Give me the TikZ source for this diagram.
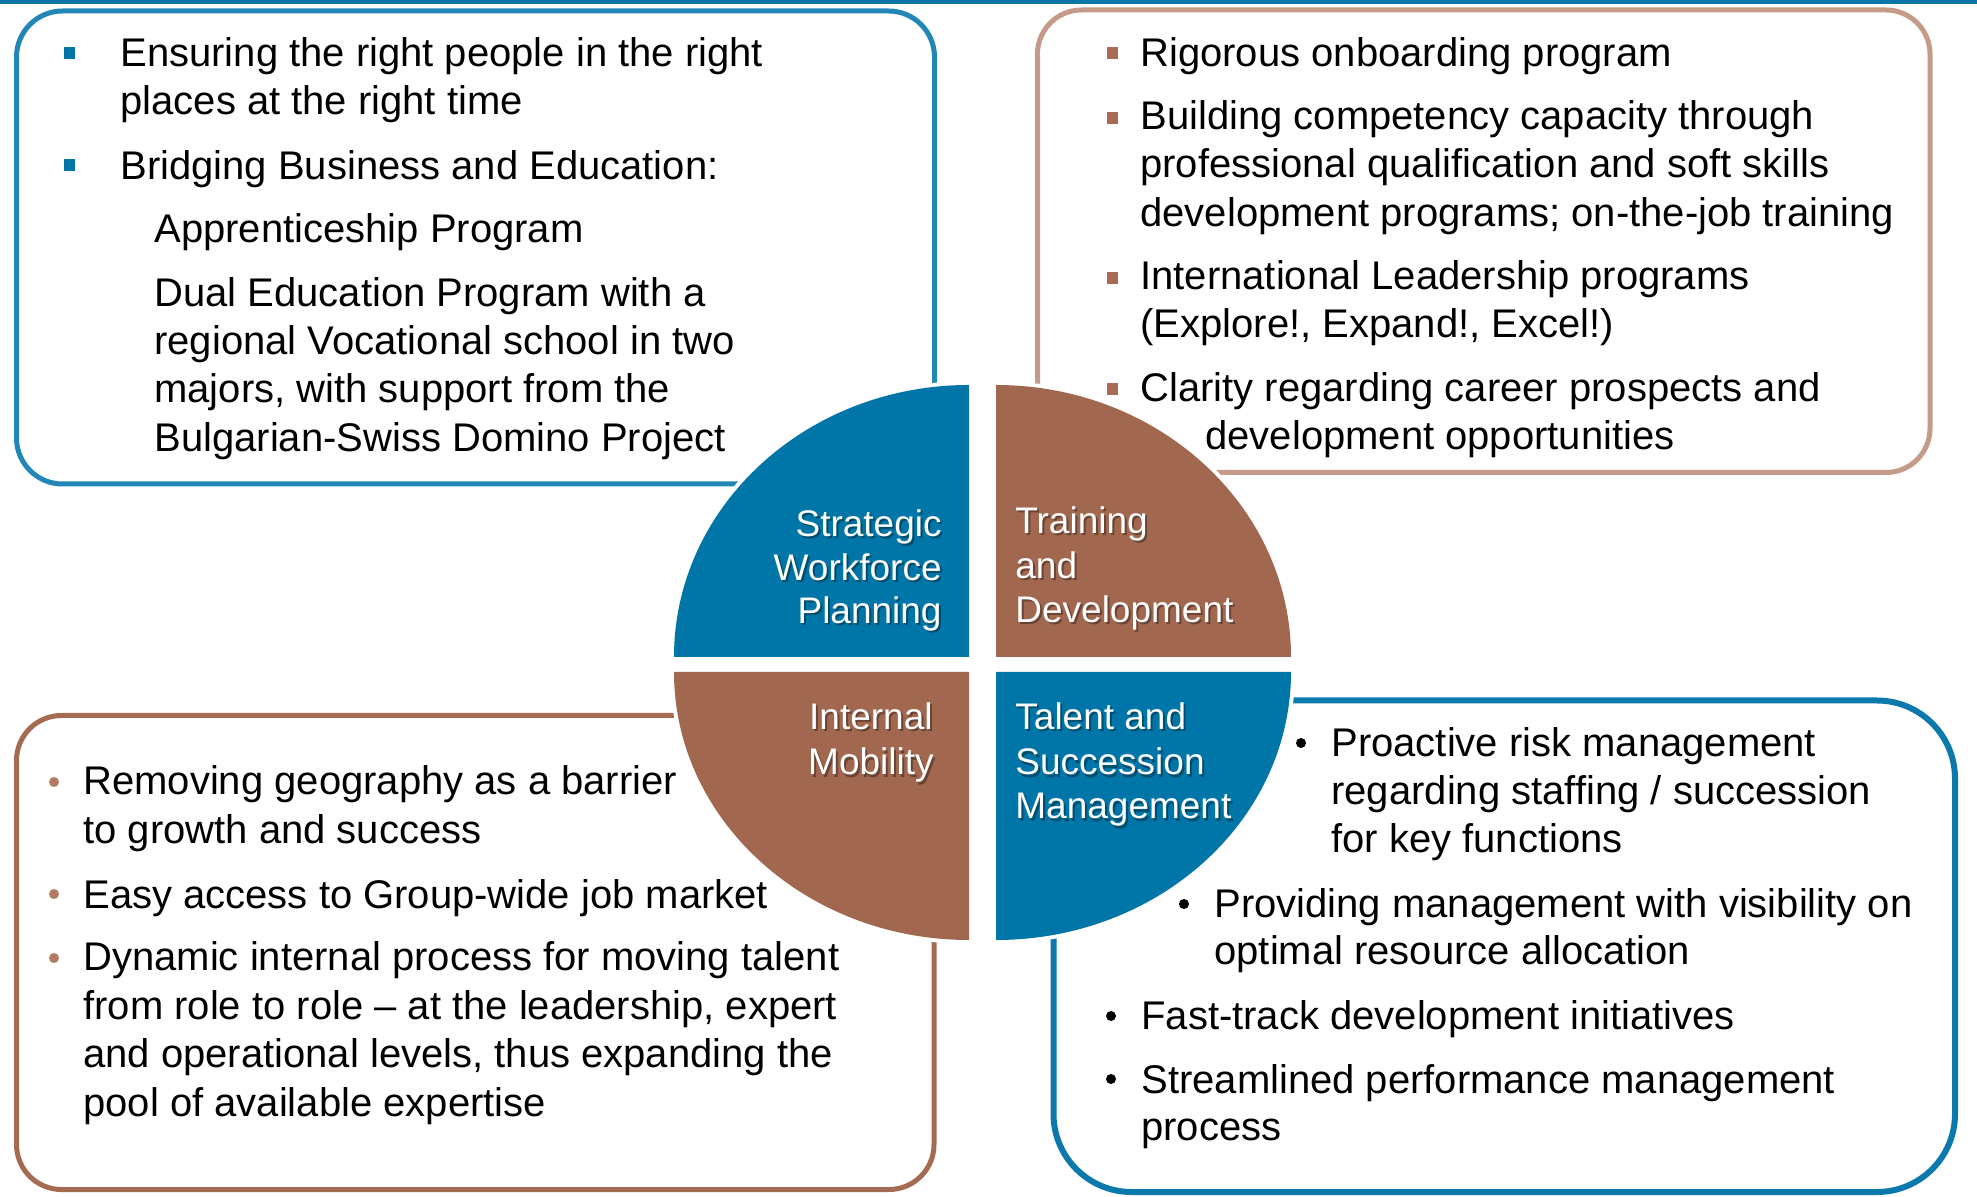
\documentclass[tikz,border=0pt]{standalone}
\usepackage{fontspec}
\setmainfont{Liberation Sans}
\definecolor{qblue}{HTML}{0075A7}
\definecolor{qbrown}{HTML}{A2674F}
\definecolor{tlline}{HTML}{2286B6}
\definecolor{trline}{HTML}{C49A89}
\definecolor{blline}{HTML}{A56A52}
\definecolor{brline}{HTML}{0C79AD}
\definecolor{topline}{HTML}{0A77A8}
\definecolor{bulbrown}{HTML}{A86B55}
\definecolor{dotbrown}{HTML}{B27B63}
\tikzset{
  body/.style={anchor=base west, inner sep=0pt, text=black, font=\fontsize{20pt}{24pt}\selectfont},
  lblL/.style={anchor=base east, inner sep=0pt, text=white, font=\fontsize{18.5pt}{22pt}\selectfont},
  lblR/.style={anchor=base west, inner sep=0pt, text=white, font=\fontsize{18.5pt}{22pt}\selectfont},
  shL/.style={lblL, text=black, text opacity=0.35},
  shR/.style={lblR, text=black, text opacity=0.35},
  sqbul/.style={rectangle, fill=#1, inner sep=0pt, minimum width=5.5pt, minimum height=6pt},
  dotbul/.style={circle, fill=#1, inner sep=0pt, minimum size=5pt},
  boxline/.style={draw=#1, line width=2.5pt},
  quadmask/.style={draw=white, line width=4pt},
}
\begin{document}
\begin{tikzpicture}[x=0.5pt,y=0.5pt]
\useasboundingbox[fill=white] (0,0) rectangle (1977,-1197);
% top rule
\draw[topline, line width=1.8pt] (0,-1.75) -- (1977,-1.75);
% boxes
\draw[boxline=tlline, rounded corners=23pt] (16.5,-11) rectangle (934.5,-484);
\draw[boxline=trline, rounded corners=22pt] (1037.5,-10) rectangle (1930,-472.5);
\draw[boxline=blline, rounded corners=22.5pt] (16.5,-715.5) rectangle (934,-1189.5);
\draw[boxline=brline, line width=3pt, rounded corners=39pt] (1053.5,-700.5) rectangle (1955,-1192);
% quadrant masks
\path[quadmask] (969,-657) -- (969,-385) arc[start angle=90, end angle=180, x radius=147.5pt, y radius=136pt] -- cycle;
\path[quadmask] (996,-657) -- (996,-385) arc[start angle=90, end angle=0, x radius=147.5pt, y radius=136pt] -- cycle;
\path[quadmask] (969,-672) -- (969,-940) arc[start angle=270, end angle=180, x radius=147.5pt, y radius=134pt] -- cycle;
\path[quadmask] (996,-672) -- (996,-940) arc[start angle=270, end angle=360, x radius=147.5pt, y radius=134pt] -- cycle;
% quadrants
\fill[qblue] (969,-657) -- (969,-385) arc[start angle=90, end angle=180, x radius=147.5pt, y radius=136pt] -- cycle;
\fill[qbrown] (996,-657) -- (996,-385) arc[start angle=90, end angle=0, x radius=147.5pt, y radius=136pt] -- cycle;
\fill[qbrown] (969,-672) -- (969,-940) arc[start angle=270, end angle=180, x radius=147.5pt, y radius=134pt] -- cycle;
\fill[qblue] (996,-672) -- (996,-940) arc[start angle=270, end angle=360, x radius=147.5pt, y radius=134pt] -- cycle;
% quadrant labels (shadow then text)
\node[shL] (s1s) at (944,-539) {Strategic};
\node[shL] (s2s) at (944,-583) {Workforce};
\node[shL] (s3s) at (944,-626) {Planning};
\node[lblL] (s1) at (942,-537) {Strategic};
\node[lblL] (s2) at (942,-581) {Workforce};
\node[lblL] (s3) at (942,-624) {Planning};
\node[shR] (t1s) at (1017,-536) {Training};
\node[shR] (t2s) at (1017,-581) {and};
\node[shR] (t3s) at (1017,-625) {Development};
\node[lblR] (t1) at (1015,-534) {Training};
\node[lblR] (t2) at (1015,-579) {and};
\node[lblR] (t3) at (1015,-623) {Development};
\node[shL] (m1s) at (935,-732) {Internal};
\node[shL] (m2s) at (936,-777) {Mobility};
\node[lblL] (m1) at (933,-730) {Internal};
\node[lblL] (m2) at (934,-775) {Mobility};
\node[shR] (u1s) at (1017,-732) {Talent and};
\node[shR] (u2s) at (1017,-777) {Succession};
\node[shR] (u3s) at (1017,-821) {Management};
\node[lblR] (u1) at (1015,-730) {Talent and};
\node[lblR] (u2) at (1015,-775) {Succession};
\node[lblR] (u3) at (1015,-819) {Management};
% top-left box text
\node[sqbul=qblue] (tlb1) at (69,-53) {};
\node[sqbul=qblue] (tlb2) at (69,-165) {};
\node[body] (tl1) at (120,-67) {Ensuring the right people in the right};
\node[body] (tl2) at (120,-115) {places at the right time};
\node[body] (tl3) at (120,-180) {Bridging Business and Education:};
\node[body] (tl4) at (154,-243) {Apprenticeship Program};
\node[body] (tl5) at (154,-307) {Dual Education Program with a};
\node[body] (tl6) at (154,-355) {regional Vocational school in two};
\node[body] (tl7) at (154,-403) {majors, with support from the};
\node[body] (tl8) at (154,-452) {Bulgarian-Swiss Domino Project};
% top-right box text
\node[sqbul=bulbrown] (trb1) at (1112,-53) {};
\node[sqbul=bulbrown] (trb2) at (1112,-118) {};
\node[sqbul=bulbrown] (trb3) at (1112,-278) {};
\node[sqbul=bulbrown] (trb4) at (1112,-389) {};
\node[body] (tr1) at (1140,-67) {Rigorous onboarding program};
\node[body] (tr2) at (1140,-130) {Building competency capacity through};
\node[body] (tr3) at (1140,-178) {professional qualification and soft skills};
\node[body] (tr4) at (1140,-227) {development programs; on-the-job training};
\node[body] (tr5) at (1140,-290) {International Leadership programs};
\node[body] (tr6) at (1140,-338) {(Explore!, Expand!, Excel!)};
\node[body] (tr7) at (1140,-402) {Clarity regarding career prospects and};
\node[body] (tr8) at (1205,-450) {development opportunities};
% bottom-left box text
\node[dotbul=dotbrown] (blb1) at (54,-782) {};
\node[dotbul=dotbrown] (blb2) at (54,-894) {};
\node[dotbul=dotbrown] (blb3) at (54,-958) {};
\node[body] (bl1) at (83,-795) {Removing geography as a barrier};
\node[body] (bl2) at (83,-843) {to growth and success};
\node[body] (bl3) at (83,-908) {Easy access to Group-wide job market};
\node[body] (bl4) at (83,-970) {Dynamic internal process for moving talent};
\node[body] (bl5) at (83,-1019) {from role to role – at the leadership, expert};
\node[body] (bl6) at (83,-1067) {and operational levels, thus expanding the};
\node[body] (bl7) at (83,-1116) {pool of available expertise};
% bottom-right box text
\node[dotbul=black] (brb1) at (1301,-743) {};
\node[dotbul=black] (brb2) at (1184,-904) {};
\node[dotbul=black] (brb3) at (1111,-1016) {};
\node[dotbul=black] (brb4) at (1111,-1079) {};
\node[body] (br1) at (1331,-756) {Proactive risk management};
\node[body] (br2) at (1331,-805) {regarding staffing / succession};
\node[body] (br3) at (1331,-852) {for key functions};
\node[body] (br4) at (1214,-917) {Providing management with visibility on};
\node[body] (br5) at (1214,-964) {optimal resource allocation};
\node[body] (br6) at (1141,-1029) {Fast-track development initiatives};
\node[body] (br7) at (1141,-1093) {Streamlined performance management};
\node[body] (br8) at (1141,-1140) {process};
\end{tikzpicture}
\end{document}
